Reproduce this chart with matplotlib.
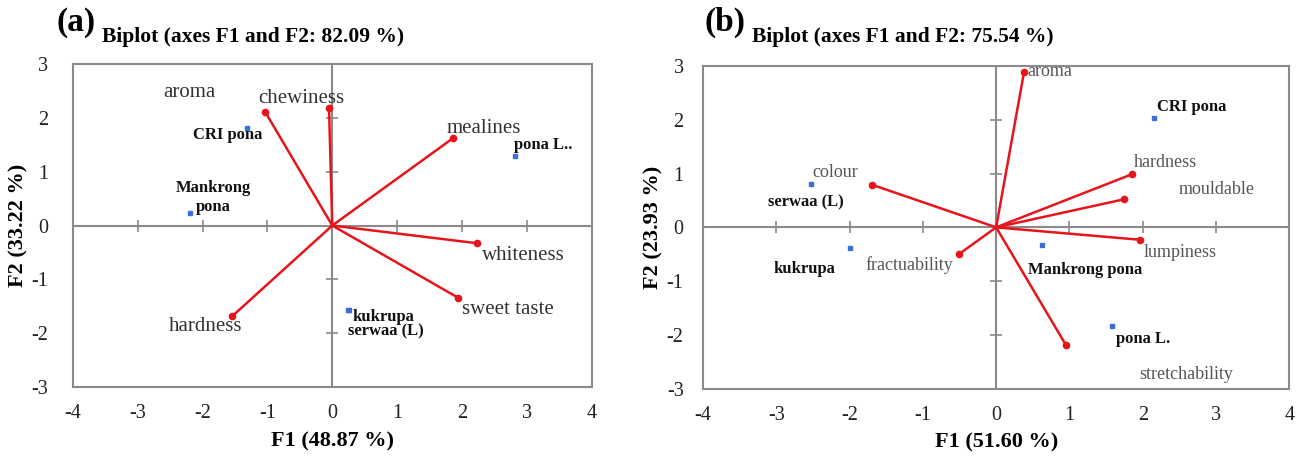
import numpy as np
import matplotlib
matplotlib.use('Agg')
import matplotlib.pyplot as plt

plt.rcParams['font.family'] = 'serif'
plt.rcParams['font.serif'] = ['Liberation Serif', 'DejaVu Serif']
plt.rcParams['axes.unicode_minus'] = False

# ---- panel (a) data ----
vars_a = ['aroma', 'chewiness', 'mealines', 'whiteness', 'sweet taste', 'hardness']
vx_a = [-1.03, -0.05, 1.86, 2.24, 1.94, -1.54]
vy_a = [2.10, 2.18, 1.62, -0.33, -1.34, -1.68]
obs_a = ['CRI pona', 'pona L..', 'Mankrong\npona', 'kukrupa', 'serwaa (L)']
ox_a = [-1.31, 2.82, -2.20, 0.26, 0.25]
oy_a = [1.81, 1.30, 0.23, -1.56, -1.57]

# ---- panel (b) data ----
vars_b = ['colour', 'aroma', 'hardness', 'mouldable', 'lumpiness', 'fractuability', 'stretchability']
vx_b = [-1.69, 0.38, 1.86, 1.74, 1.96, -0.51, 0.95]
vy_b = [0.79, 2.88, 0.99, 0.52, -0.23, -0.50, -2.18]
obs_b = ['CRI pona', 'serwaa (L)', 'kukrupa', 'Mankrong pona', 'pona L.']
ox_b = [2.16, -2.53, -1.99, 0.62, 1.58]
oy_b = [2.03, 0.80, -0.39, -0.33, -1.83]

xticks = [-4, -3, -2, -1, 0, 1, 2, 3, 4]
yticks = [-3, -2, -1, 0, 1, 2, 3]

# label placement (x, y, ha) -- layout only
vlab_a = [(-2.21, 2.47, 'center'), (-0.47, 2.35, 'center'), (2.34, 1.81, 'center'),
          (2.95, -0.55, 'center'), (2.71, -1.56, 'center'), (-1.96, -1.88, 'center')]
olab_a = [(-1.61, 1.68, 'center'), (3.25, 1.50, 'center'), (-1.83, 0.52, 'center'),
          (0.31, -1.70, 'left'), (0.25, -1.97, 'left')]
vlab_b = [(-2.19, 1.02, 'center'), (0.42, 2.90, 'left'), (2.31, 1.20, 'center'),
          (3.01, 0.71, 'center'), (2.51, -0.46, 'center'), (-1.19, -0.70, 'center'),
          (2.59, -2.74, 'center')]
olab_b = [(2.20, 2.23, 'left'), (-2.59, 0.46, 'center'), (-2.61, -0.78, 'center'),
          (1.22, -0.79, 'center'), (1.64, -2.08, 'left')]

RED = '#e8141c'
BLUE = '#3a6fd8'
GRAY = '#8a8a8a'

fig = plt.figure(figsize=(13.03, 4.57), dpi=100)
ax_a = fig.add_axes([0.056, 0.153, 0.398, 0.707])
ax_b = fig.add_axes([0.5395, 0.149, 0.450, 0.707])


def biplot(ax, vx, vy, vlabels, vpos, vsize, vcolor, ox, oy, olabels, opos, xlabel, ylabel, ypad):
    ax.set_xlim(-4, 4)
    ax.set_ylim(-3, 3)
    ax.set_xticks(xticks)
    ax.set_yticks(yticks)
    ax.tick_params(length=0, labelsize=14.5, colors='#222222')
    ax.tick_params(axis='x', pad=12)
    ax.tick_params(axis='y', pad=ypad)
    for s in ax.spines.values():
        s.set_color(GRAY)
        s.set_linewidth(1.5)

    # zero axes with cross ticks
    ax.axhline(0, color=GRAY, lw=1.5, zorder=1)
    ax.axvline(0, color=GRAY, lw=1.5, zorder=1)
    xt = [t for t in xticks if t not in (0, -4, 4)]
    yt = [t for t in yticks if t not in (0, -3, 3)]
    ax.plot(xt, np.zeros(len(xt)), ls='none', marker='|', ms=9, mew=1.2, color=GRAY, zorder=1)
    ax.plot(np.zeros(len(yt)), yt, ls='none', marker='_', ms=9, mew=1.2, color=GRAY, zorder=1)

    # variable vectors
    for x, y in zip(vx, vy):
        ax.plot([0, x], [0, y], color=RED, lw=1.8, zorder=3)
    ax.plot(vx, vy, ls='none', marker='o', ms=4.5, color=RED, zorder=4)
    for lab, (px, py, ha) in zip(vlabels, vpos):
        ax.text(px, py, lab, ha=ha, va='center', fontsize=vsize, color=vcolor, zorder=5)

    # observations
    ax.plot(ox, oy, ls='none', marker='s', ms=3.2, color=BLUE, zorder=4)
    for lab, (px, py, ha) in zip(olabels, opos):
        ax.text(px, py, lab, ha=ha, va='center', fontsize=12, fontweight='bold',
                color='#111111', linespacing=1.3, zorder=5)

    ax.set_xlabel(xlabel, fontsize=16, fontweight='bold', labelpad=6)
    ax.set_ylabel(ylabel, fontsize=16, fontweight='bold', labelpad=2)


biplot(ax_a, vx_a, vy_a, vars_a, vlab_a, 15, '#333333', ox_a, oy_a, obs_a, olab_a,
       'F1 (48.87 %)', 'F2 (33.22 %)', 18)
biplot(ax_b, vx_b, vy_b, vars_b, vlab_b, 13, '#555555', ox_b, oy_b, obs_b, olab_b,
       'F1 (51.60 %)', 'F2 (23.93 %)', 14)

fig.text(76 / 1303, 1 - 22 / 457, '(a)', fontsize=24, fontweight='bold', ha='center', va='center')
fig.text(725 / 1303, 1 - 22 / 457, '(b)', fontsize=24, fontweight='bold', ha='center', va='center')
fig.text(102 / 1303, 1 - 37 / 457, 'Biplot (axes F1 and F2: 82.09 %)', fontsize=15.5,
         fontweight='bold', ha='left', va='center')
fig.text(752 / 1303, 1 - 37 / 457, 'Biplot (axes F1 and F2: 75.54 %)', fontsize=15.5,
         fontweight='bold', ha='left', va='center')

fig.savefig('out.png', dpi=100)
